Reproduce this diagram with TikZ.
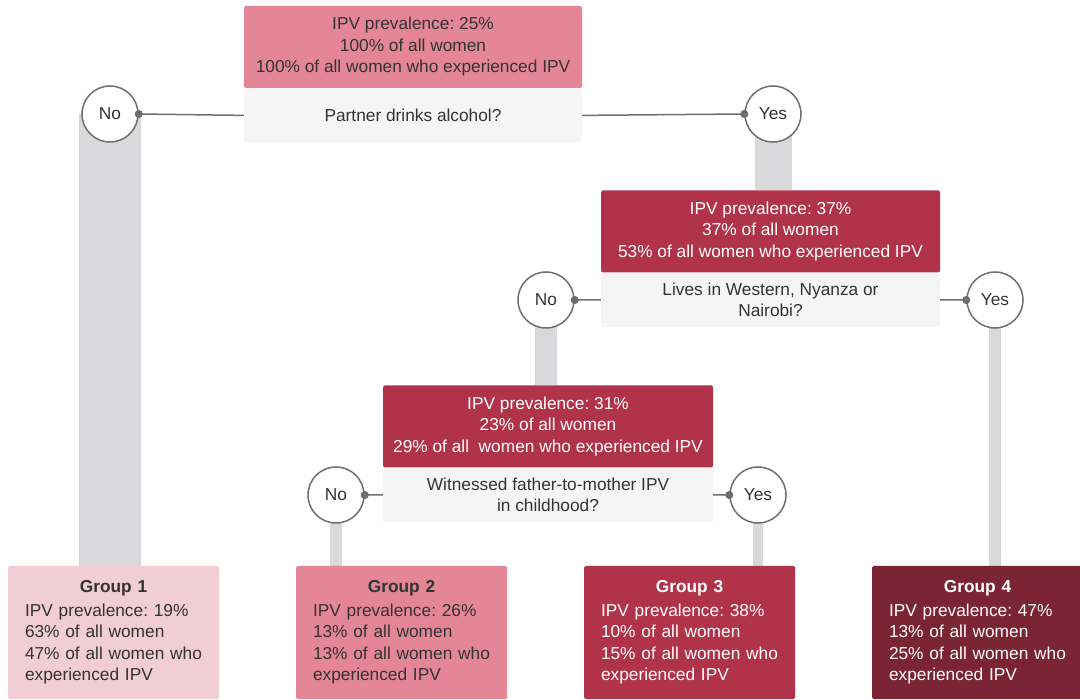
\documentclass[tikz,border=0pt]{standalone}
\usepackage{fontspec}
\setmainfont{Liberation Sans}
\usetikzlibrary{positioning, backgrounds, arrows.meta}
\frenchspacing

\definecolor{rosa}{HTML}{E48695}
\definecolor{rosapale}{HTML}{F1CDD5}
\definecolor{crimson}{HTML}{B03349}
\definecolor{wine}{HTML}{7B2433}
\definecolor{qgray}{HTML}{F5F5F5}
\definecolor{bargray}{HTML}{D9D9DB}
\definecolor{linegray}{HTML}{6E6E6E}
\definecolor{textdark}{HTML}{333333}

\newcommand{\groupname}[1]{\makebox[\hsize]{\textbf{Group #1}}\\[2pt]}

\begin{document}
\begin{tikzpicture}[x=1pt, y=-1pt, font=\fontsize{17.3}{21.5}\selectfont, stats/.style={rectangle, rounded corners=1.5pt, minimum width=#1, minimum height=82, align=center, inner sep=0pt}, question/.style={rectangle, rounded corners=1.5pt, fill=qgray, text=textdark, minimum width=#1, minimum height=54, align=center, inner sep=0pt}, answer/.style={circle, draw=linegray, line width=1.5pt, fill=white, text=textdark, minimum size=56, inner sep=0pt}, group/.style={rectangle, rounded corners=1.5pt, minimum width=211, minimum height=133, text width=177, align=left, inner xsep=17, inner ysep=0pt}, bar/.style={draw=bargray, line width=#1}, link/.style={draw=linegray, line width=1.5pt, -{Circle[length=8pt]}, shorten >=-4pt} ]
	\useasboundingbox (0,0) rectangle (1080,700);

	%Perguntas:
	\node[stats=338, fill=rosa, text=textdark]	(s1) at (413,47)	{IPV prevalence: 25\%\\100\% of all women\\100\% of all women who experienced IPV};
	\node[question=338]		(q1) [below=0pt of s1]	{Partner drinks alcohol?};
	\node[stats=339, fill=crimson, text=white]	(s2) at (770.5,231.5)	{IPV prevalence: 37\%\\37\% of all women\\53\% of all women who experienced IPV};
	\node[question=339]		(q2) [below=0pt of s2]	{Lives in Western, Nyanza or\\Nairobi?};
	\node[stats=330, fill=crimson, text=white]	(s3) at (548,426.5)	{IPV prevalence: 31\%\\23\% of all women\\29\% of all \ women who experienced IPV};
	\node[question=330]		(q3) [below=0pt of s3]	{Witnessed father-to-mother IPV\\in childhood?};

	%Respostas:
	\node[answer]	(no1)	at (110,114)	{No};
	\node[answer]	(yes1)	at (773,114)	{Yes};
	\node[answer]	(no2)	at (546,300)	{No};
	\node[answer]	(yes2)	at (995,300)	{Yes};
	\node[answer]	(no3)	at (336,495)	{No};
	\node[answer]	(yes3)	at (758,495)	{Yes};

	%Grupos:
	\node[group, fill=rosapale, text=textdark]	(g1) at (113.5,632.5)	{\groupname{1}IPV prevalence: 19\%\\63\% of all women\\47\% of all women who\\experienced IPV};
	\node[group, fill=rosa, text=textdark]		(g2) at (401.5,632.5)	{\groupname{2}IPV prevalence: 26\%\\13\% of all women\\13\% of all women who\\experienced IPV};
	\node[group, fill=crimson, text=white]		(g3) at (689.5,632.5)	{\groupname{3}IPV prevalence: 38\%\\10\% of all women\\15\% of all women who\\experienced IPV};
	\node[group, fill=wine, text=white]			(g4) at (977.5,632.5)	{\groupname{4}IPV prevalence: 47\%\\13\% of all women\\25\% of all women who\\experienced IPV};

	%Ligações:
	\draw[link] (q1.west) -- (no1.east);
	\draw[link] (q1.east) -- (yes1.west);
	\draw[link] (q2.west) -- (no2.east);
	\draw[link] (q2.east) -- (yes2.west);
	\draw[link] (q3.west) -- (no3.east);
	\draw[link] (q3.east) -- (yes3.west);

	\begin{scope}[on background layer]
		\draw[bar=62] (no1.center) -- (no1 |- g1.north);
		\draw[bar=37] (yes1.center) -- (yes1 |- s2.north);
		\draw[bar=22] (no2.center) -- (no2 |- s3.north);
		\draw[bar=12] (yes2.center) -- (yes2 |- g4.north);
		\draw[bar=12] (no3.center) -- (no3 |- g2.north);
		\draw[bar=10] (yes3.center) -- (yes3 |- g3.north);
	\end{scope}
\end{tikzpicture}
\end{document}
